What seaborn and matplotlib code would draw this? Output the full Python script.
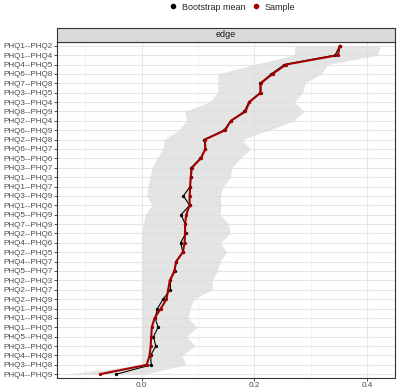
import numpy as np
import pandas as pd
import matplotlib
matplotlib.use("Agg")
import matplotlib.pyplot as plt
from matplotlib.lines import Line2D
from matplotlib.ticker import MultipleLocator
import seaborn as sns

edges = ["PHQ1--PHQ2", "PHQ1--PHQ4", "PHQ4--PHQ5", "PHQ6--PHQ8", "PHQ7--PHQ8",
         "PHQ3--PHQ5", "PHQ3--PHQ4", "PHQ8--PHQ9", "PHQ2--PHQ4", "PHQ6--PHQ9",
         "PHQ2--PHQ8", "PHQ6--PHQ7", "PHQ5--PHQ6", "PHQ3--PHQ7", "PHQ1--PHQ3",
         "PHQ1--PHQ7", "PHQ3--PHQ9", "PHQ1--PHQ6", "PHQ5--PHQ9", "PHQ7--PHQ9",
         "PHQ2--PHQ6", "PHQ4--PHQ6", "PHQ2--PHQ5", "PHQ4--PHQ7", "PHQ5--PHQ7",
         "PHQ2--PHQ3", "PHQ2--PHQ7", "PHQ2--PHQ9", "PHQ1--PHQ9", "PHQ1--PHQ8",
         "PHQ1--PHQ5", "PHQ5--PHQ8", "PHQ3--PHQ6", "PHQ4--PHQ8", "PHQ3--PHQ8",
         "PHQ4--PHQ9"]

sample = [0.351, 0.348, 0.256, 0.232, 0.211, 0.211, 0.191, 0.184, 0.158, 0.148,
          0.112, 0.113, 0.105, 0.089, 0.087, 0.086, 0.085, 0.085, 0.079, 0.077,
          0.077, 0.076, 0.073, 0.061, 0.058, 0.050, 0.047, 0.044, 0.034, 0.023,
          0.018, 0.017, 0.016, 0.014, 0.009, -0.074]

boot_mean = [0.351, 0.343, 0.253, 0.230, 0.210, 0.210, 0.190, 0.182, 0.158, 0.146,
             0.111, 0.113, 0.104, 0.088, 0.087, 0.086, 0.074, 0.085, 0.070, 0.077,
             0.078, 0.069, 0.073, 0.061, 0.059, 0.051, 0.051, 0.038, 0.028, 0.024,
             0.029, 0.021, 0.025, 0.016, 0.017, -0.045]

ci_lower = [0.272, 0.270, 0.200, 0.135, 0.135, 0.135, 0.120, 0.076, 0.080, 0.065,
            0.040, 0.038, 0.027, 0.018, 0.015, 0.011, 0.009, 0.018, 0.006, 0.003,
            0.0, 0.0, 0.0, 0.0, 0.0, 0.0, 0.0, 0.0, 0.0, 0.0,
            0.0, 0.0, 0.0, 0.0, 0.0, -0.133]

ci_upper = [0.423, 0.418, 0.330, 0.318, 0.290, 0.285, 0.271, 0.288, 0.270, 0.225,
            0.178, 0.193, 0.175, 0.160, 0.157, 0.145, 0.139, 0.141, 0.139, 0.154,
            0.157, 0.139, 0.151, 0.139, 0.134, 0.125, 0.125, 0.092, 0.086, 0.082,
            0.098, 0.080, 0.095, 0.071, 0.079, 0.005]

df = pd.DataFrame({
    "edge": edges * 2,
    "value": boot_mean + sample,
    "type": ["Bootstrap mean"] * len(edges) + ["Sample"] * len(edges),
})

sns.set_style("white")
plt.rcParams["font.family"] = ["Liberation Sans", "DejaVu Sans"]

fig = plt.figure(figsize=(4.01, 3.92), dpi=100)
ax = fig.add_axes([57 / 401, 1 - 377.5 / 392, 338 / 401, (377.5 - 41.7) / 392])

# ribbon (bootstrap CI)
ax.fill_betweenx(edges, ci_lower, ci_upper, color="#dcdcdc", alpha=0.75,
                 linewidth=0, zorder=2)

sns.lineplot(data=df[df["type"] == "Bootstrap mean"], x="value", y="edge",
             orient="y", sort=False, estimator=None, color="black",
             linewidth=0.8, marker="o", markersize=2.4, markeredgewidth=0,
             ax=ax, zorder=3, legend=False)
sns.lineplot(data=df[df["type"] == "Sample"], x="value", y="edge",
             orient="y", sort=False, estimator=None, color="#a00000",
             linewidth=1.5, marker="o", markersize=2.4, markeredgewidth=0,
             ax=ax, zorder=4, legend=False)

ax.set_xlim(-0.150, 0.449)
ax.set_ylim(35.35, -0.43)
ax.xaxis.set_major_locator(MultipleLocator(0.2))
ax.xaxis.set_minor_locator(MultipleLocator(0.1))
ax.set_xticklabels([f"{t:.1f}" for t in ax.get_xticks()])
ax.set_xlabel("")
ax.set_ylabel("")

ax.grid(True, which="major", color="#e6e6e6", linewidth=0.8, zorder=0)
ax.grid(True, which="minor", axis="x", color="#efefef", linewidth=0.5, zorder=0)
ax.set_axisbelow(True)
for s in ax.spines.values():
    s.set_color("#333333")
    s.set_linewidth(0.8)
ax.tick_params(axis="both", which="major", length=2.0, width=0.6, color="#333333",
               labelcolor="#4d4d4d", labelsize=5.9, pad=1.0, left=True, bottom=True)
ax.tick_params(axis="both", which="minor", length=0)

# facet strip
strip = fig.add_axes([57 / 401, 1 - 41.7 / 392, 338 / 401, 14 / 392])
strip.set_facecolor("#d9d9d9")
strip.set_xticks([])
strip.set_yticks([])
for s in strip.spines.values():
    s.set_color("#333333")
    s.set_linewidth(0.8)
strip.text(0.5, 0.5, "edge", ha="center", va="center", fontsize=6.5, color="#1a1a1a",
           transform=strip.transAxes)

handles = [Line2D([], [], marker="o", linestyle="", color="black", markersize=3.0),
           Line2D([], [], marker="o", linestyle="", color="#a00000", markersize=3.0)]
fig.legend(handles, ["Bootstrap mean", "Sample"], loc="center",
           bbox_to_anchor=(0.578, 0.982), ncol=2, frameon=False, fontsize=6.5,
           handletextpad=0.5, columnspacing=0.6, handlelength=1.0)

fig.savefig("out.png", dpi=100)
